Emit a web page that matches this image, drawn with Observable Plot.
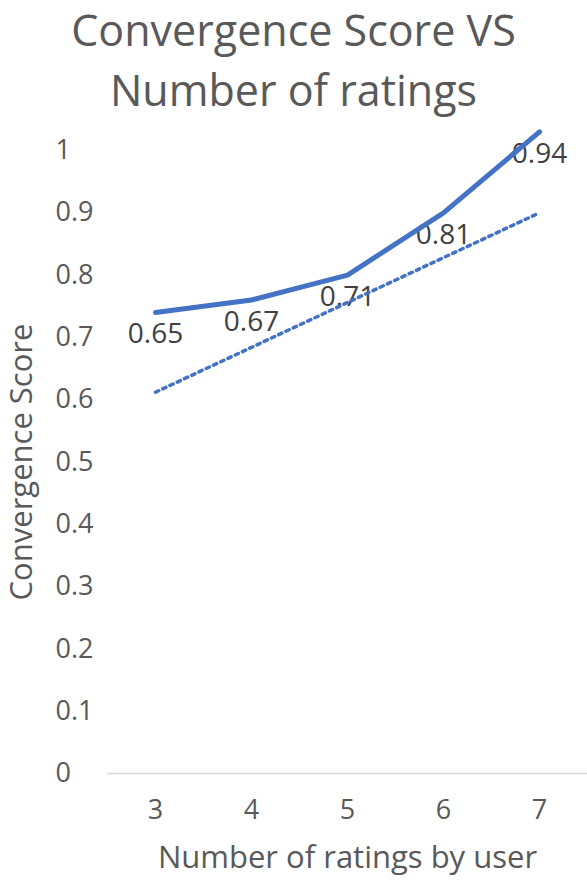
<!DOCTYPE html>
<html>
<head>
<meta charset="utf-8">
<script src="https://cdn.jsdelivr.net/npm/d3@7"></script>
<script src="https://cdn.jsdelivr.net/npm/@observablehq/plot@0.6"></script>
<style>
  html, body { margin: 0; padding: 0; background: #ffffff; }
  #title { width: 587px; height: 120px; text-align: center; font-family: "Open Sans", sans-serif;
           font-size: 43px; line-height: 60px; color: #595959; }
  #chart svg { display: block; }
</style>
</head>
<body>
<div id="title">Convergence Score VS<br>Number of ratings</div>
<div id="chart"></div>
<script>
const ratings = [3, 4, 5, 6, 7];
const scores = [0.65, 0.67, 0.71, 0.81, 0.94];           // data labels (trendline fitted on these)
const linePositions = [0.74, 0.76, 0.80, 0.90, 1.03];    // solid line as drawn in picture
const yTicks = [0, 0.1, 0.2, 0.3, 0.4, 0.5, 0.6, 0.7, 0.8, 0.9, 1];
const xTicks = [3, 4, 5, 6, 7];

const data = ratings.map((r, i) => ({x: r, score: scores[i], pos: linePositions[i], label: String(scores[i])}));

const font = '"Open Sans", sans-serif';
const plot = Plot.plot({
  width: 587,
  height: 761,
  marginTop: 30,
  marginBottom: 108,
  marginLeft: 107,
  marginRight: 0,
  style: {fontFamily: font, background: "white", overflow: "visible"},
  x: {domain: [2.5, 7.5]},
  y: {domain: [0, 1]},
  marks: [
    Plot.ruleY([0], {stroke: "#d9d9d9", strokeWidth: 1.5}),
    Plot.axisY({ticks: yTicks, tickSize: 0, tickPadding: 0, textAnchor: "start", dx: -52,
                fontSize: 27, fill: "#595959", tickFormat: d => String(+d.toFixed(1)), label: null}),
    Plot.axisX({ticks: xTicks, tickSize: 0, tickPadding: 26, fontSize: 27, fill: "#595959",
                tickFormat: d => String(d), label: null}),
    Plot.text(["Number of ratings by user"], {frameAnchor: "bottom", dy: 94, fontSize: 31, fill: "#595959"}),
    Plot.text(["Convergence Score"], {frameAnchor: "left", textAnchor: "middle", dx: -85, rotate: -90, fontSize: 31, fill: "#595959"}),
    Plot.text(data, {x: "x", y: "pos", text: "label", dy: 22, fontSize: 28, fill: "#404040"}),
    Plot.linearRegressionY(data, {x: "x", y: "score", ci: 0, stroke: "#4472C4", strokeWidth: 3.5, strokeDasharray: "3.5,4.5"}),
    Plot.line(data, {x: "x", y: "pos", stroke: "#4472C4", strokeWidth: 5, strokeLinejoin: "round"})
  ]
});
document.getElementById("chart").appendChild(plot);
</script>
</body>
</html>
